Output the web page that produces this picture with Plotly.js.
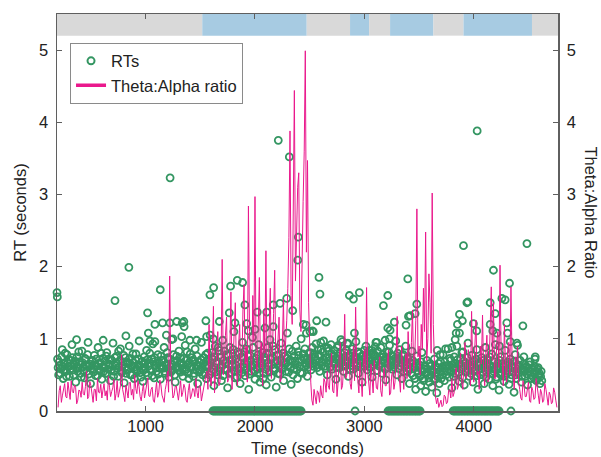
<!DOCTYPE html>
<html><head><meta charset="utf-8">
<script src="https://cdn.plot.ly/plotly-3.0.1.min.js"></script>
<style>html,body{margin:0;padding:0;background:#fff}#chart{width:601px;height:457px}</style>
</head><body><div id="chart"></div>
<script>
// ---- Theta:Alpha ratio, sampled every 10 s from t = 200 s ----
const thetaStart = 200;
const thetaStep = 10;
const thetaRatio = [
  0.05,0.28,0.35,0.12,0.22,0.31,0.38,0.20,0.18,0.40,0.30,0.16,0.42,0.27,0.25,0.36,0.33,0.10,0.15,0.29,
  0.28,0.19,0.40,0.24,0.22,0.34,0.55,0.17,0.20,0.41,0.35,0.23,0.12,0.30,0.30,0.14,0.45,0.26,0.25,0.37,
  0.18,0.29,0.38,0.21,0.28,0.15,0.48,0.33,0.20,0.27,0.32,0.44,0.15,0.24,0.42,0.19,0.26,0.35,0.78,0.30,
  0.22,0.13,0.36,0.28,0.18,0.39,0.40,0.22,0.30,0.16,0.50,0.31,0.24,0.42,0.34,0.20,0.14,0.27,0.38,0.18,
  0.28,0.35,0.46,0.21,0.20,0.30,0.33,0.15,0.12,0.26,0.40,0.19,0.25,0.43,0.36,0.22,0.18,0.12,0.30,0.38,
  0.55,0.26,1.87,0.60,0.40,0.18,0.22,0.33,0.35,0.24,0.15,0.29,0.42,0.20,0.26,0.37,0.32,0.15,0.12,0.28,
  0.38,0.17,0.22,0.31,0.30,0.20,0.45,0.26,0.18,0.35,0.34,0.14,0.25,0.32,0.40,0.48,
  0.55,0.30,1.20,0.45,0.35,0.80,1.45,0.25,0.60,0.95,1.10,0.35,0.40,0.70,2.10,0.50,0.70,1.05,1.30,0.40,
  0.45,0.85,1.65,0.30,0.80,1.25,1.50,0.55,0.35,0.90,1.20,0.45,0.60,1.40,1.75,0.65,0.90,0.40,2.84,1.10,
  0.75,0.50,1.60,0.95,2.97,0.70,0.55,1.30,1.85,0.60,0.95,0.35,1.40,0.80,2.22,0.55,0.50,1.15,1.70,0.45,
  0.85,1.35,1.95,0.70,0.65,1.05,1.30,0.40,0.45,0.90,1.55,0.65,0.90,1.25,1.70,2.40,3.88,1.60,1.20,2.70,
  4.44,1.80,2.60,3.10,3.30,1.40,1.10,2.30,2.90,3.60,4.99,2.20,3.47,1.50,0.90,0.40,
  0.15,0.08,0.30,0.20,0.10,0.28,0.25,0.12,0.35,0.22,0.18,0.45,0.40,0.26,
  0.55,0.35,0.30,0.60,0.80,0.28,0.25,0.50,0.65,0.20,0.40,0.75,0.95,0.30,0.35,0.62,1.34,0.45,0.50,0.85,
  0.75,0.38,0.30,0.55,0.90,0.42,1.44,0.60,0.45,0.25,0.70,0.48,0.20,0.65,0.85,0.35,1.71,0.55,0.40,0.22,
  0.65,0.45,0.25,0.70,0.55,0.32,
  0.30,0.52,0.75,0.28,0.20,0.45,0.60,0.35,0.35,0.68,0.85,0.22,0.25,0.50,0.55,0.30,0.40,0.72,1.31,0.48,
  0.45,0.26,0.90,0.55,0.30,0.62,
  0.80,0.45,1.10,0.65,0.50,0.95,1.40,0.55,0.70,1.25,2.80,0.75,0.90,0.50,1.20,0.85,1.70,1.10,2.48,0.70,
  1.00,1.90,1.50,0.80,3.02,1.20,0.60,0.20,
  0.10,0.18,0.05,0.12,0.15,0.06,0.08,0.22,0.20,0.10,0.12,0.28,0.30,0.18,
  0.45,0.20,0.25,0.52,0.60,0.30,0.35,0.65,0.80,0.40,0.30,0.70,0.95,0.45,0.50,0.85,0.70,0.35,1.38,0.60,
  0.40,0.90,1.26,0.50,0.55,0.30,0.90,0.65,1.33,0.55,0.35,0.80,1.05,0.40,0.60,1.15,1.72,0.70,1.50,0.45,
  0.45,0.95,1.10,0.60,2.02,0.80,0.70,0.35,1.20,0.65,0.40,0.85,0.95,0.50,1.72,0.70,0.50,0.30,0.75,0.45,
  0.89,0.40,0.30,0.18,0.15,0.42,0.35,0.20,0.20,0.30,0.40,0.14,0.12,0.33,0.28,0.16,0.18,0.45,0.36,0.22,
  0.10,0.30,0.25,0.12,0.15,0.38,0.30,0.17,0.08,0.26,0.22,0.10,0.12,0.32,0.26,0.15,0.05
];

// ---- Reaction times: main cluster (two interleaved sets of trials) ----
const rtTime = [
  195,205,214,226,238,247,259,270,281,293,
  304,316,327,338,349,361,372,383,395,406,
  418,429,440,452,463,474,486,497,508,520,
  531,543,554,565,577,588,600,611,622,634,
  645,657,668,679,691,702,713,725,736,748,
  759,770,782,793,804,816,827,839,850,861,
  873,884,896,907,918,930,941,952,964,975,
  987,998,1009,1021,1032,1044,1055,1066,1078,1089,
  1100,1112,1123,1135,1146,1157,1169,1180,1192,1203,
  1214,1226,1237,1249,1260,1271,1283,1294,1305,1317,
  1328,1340,1351,1362,1374,1385,1396,1408,1419,1431,
  1442,1453,1465,1476,1487,1499,1510,1522,1533,1545,
  1556,1567,1579,1590,1601,1613,1624,1636,1647,1658,
  1670,1681,1693,1704,1715,1727,1738,1750,1761,1772,
  1784,1795,1807,1818,1829,1841,1852,1864,1875,1886,
  1898,1909,1920,1932,1943,1955,1966,1977,1989,2000,
  2012,2023,2034,2046,2057,2068,2080,2091,2103,2114,
  2125,2137,2148,2160,2171,2182,2194,2205,2217,2228,
  2239,2251,2262,2274,2285,2296,2308,2319,2331,2342,
  2353,2365,2376,2388,2399,2410,2422,2433,2445,2456,
  2467,2479,2490,2501,2513,2524,2536,2547,2558,2570,
  2581,2592,2604,2615,2627,2638,2649,2661,2672,2684,
  2695,2706,2718,2729,2740,2752,2763,2775,2786,2797,
  2809,2820,2832,2843,2854,2866,2877,2888,2900,2911,
  2923,2934,2945,2957,2968,2979,2991,3002,3014,3025,
  3036,3048,3059,3071,3082,3093,3105,3116,3127,3139,
  3150,3162,3173,3184,3196,3207,3219,3230,3241,3253,
  3264,3276,3287,3298,3310,3321,3333,3344,3355,3367,
  3378,3390,3401,3412,3424,3435,3446,3458,3469,3480,
  3492,3503,3515,3526,3537,3549,3560,3571,3583,3594,
  3606,3617,3628,3640,3651,3662,3674,3685,3697,3708,
  3719,3731,3742,3753,3765,3776,3788,3799,3810,3822,
  3833,3845,3856,3867,3879,3890,3901,3913,3924,3936,
  3947,3958,3970,3981,3992,4004,4015,4027,4038,4049,
  4061,4072,4083,4095,4106,4117,4129,4140,4152,4163,
  4174,4186,4197,4208,4220,4231,4243,4254,4265,4277,
  4288,4299,4311,4322,4334,4345,4356,4368,4379,4390,
  4402,4413,4424,4436,4447,4458,4470,4481,4492,4504,
  4515,4526,4538,4549,4560,4572,4583,4594,4605,4616,
  200,210,220,232,243,253,264,276,287,298,
  310,321,332,344,355,366,378,389,400,412,
  423,435,446,457,469,480,491,503,514,525,
  537,548,560,571,582,594,605,617,628,640,
  651,662,674,685,696,708,719,730,742,753,
  765,776,787,799,810,821,833,844,856,867,
  878,890,901,912,924,935,947,958,969,981,
  992,1004,1015,1026,1038,1049,1061,1072,1083,1095,
  1106,1117,1129,1140,1152,1163,1174,1186,1197,1209,
  1220,1231,1243,1254,1266,1277,1288,1300,1311,1322,
  1334,1345,1357,1368,1379,1391,1402,1414,1425,1436,
  1448,1459,1470,1482,1493,1505,1516,1527,1539,1550,
  1562,1573,1584,1596,1607,1618,1630,1641,1653,1664,
  1675,1687,1698,1709,1721,1732,1744,1755,1767,1778,
  1790,1801,1812,1824,1835,1846,1858,1869,1880,1892,
  1903,1915,1926,1937,1949,1960,1972,1983,1994,2006,
  2017,2029,2040,2051,2063,2074,2085,2097,2108,2120,
  2131,2142,2154,2165,2177,2188,2199,2211,2222,2234,
  2245,2256,2268,2279,2291,2302,2313,2325,2336,2348,
  2359,2370,2382,2393,2405,2416,2427,2439,2450,2462,
  2473,2484,2496,2507,2518,2530,2541,2553,2564,2575,
  2587,2598,2609,2621,2632,2644,2655,2666,2678,2689,
  2700,2712,2723,2735,2746,2757,2769,2780,2792,2803,
  2814,2826,2837,2849,2860,2871,2883,2894,2906,2917,
  2928,2940,2951,2962,2974,2985,2997,3008,3019,3031,
  3042,3053,3065,3076,3088,3099,3110,3122,3133,3144,
  3156,3167,3178,3190,3201,3213,3224,3235,3247,3258,
  3270,3281,3292,3304,3315,3326,3338,3349,3361,3372,
  3383,3395,3406,3418,3429,3440,3452,3463,3474,3486,
  3497,3509,3520,3531,3543,3554,3565,3577,3588,3600,
  3611,3622,3634,3645,3657,3668,3679,3691,3702,3713,
  3725,3736,3748,3759,3770,3782,3793,3805,3816,3827,
  3839,3850,3862,3873,3884,3896,3907,3918,3930,3941,
  3953,3964,3975,3987,3998,4009,4021,4032,4044,4055,
  4066,4078,4089,4100,4112,4123,4134,4146,4157,4169,
  4180,4191,4203,4214,4225,4237,4248,4260,4271,4282,
  4294,4305,4316,4328,4339,4350,4362,4373,4384,4396,
  4407,4419,4430,4441,4453,4464,4475,4487,4498,4509,
  4521,4532,4543,4555,4566,4577,4589,4600,4611,4622
];
const rtValue = [
  0.72,0.50,0.63,0.58,0.85,0.45,0.66,0.55,0.78,0.61,
  0.48,0.70,0.92,0.57,0.64,0.40,0.75,0.59,0.68,0.52,
  0.83,0.61,0.46,0.72,0.55,0.95,0.63,0.38,0.69,0.58,
  0.77,0.49,0.62,0.88,0.56,0.67,0.44,0.73,0.60,0.52,
  0.81,0.58,0.65,0.42,0.70,0.94,0.55,0.63,0.76,0.48,
  0.61,0.86,0.53,0.68,0.39,0.74,0.57,0.66,0.90,0.50,
  0.62,0.79,0.45,0.71,0.58,0.64,0.97,0.53,0.68,0.41,
  0.75,0.60,0.84,0.49,0.66,0.57,0.72,0.93,0.46,0.63,
  0.55,0.78,0.67,0.44,0.70,0.59,0.88,0.52,0.65,0.74,
  0.47,0.62,0.99,0.57,0.69,0.40,0.76,0.60,0.83,0.54,
  0.66,0.48,0.73,0.91,0.58,0.64,0.45,0.79,0.61,0.70,
  0.52,0.86,0.63,0.38,0.68,0.57,0.95,0.50,0.74,0.62,
  0.45,0.80,0.62,1.05,0.55,0.72,0.35,0.90,0.66,0.50,
  0.84,0.60,0.42,0.98,0.70,0.57,0.78,0.32,0.65,0.88,
  0.53,0.71,1.10,0.46,0.63,0.82,0.58,0.38,0.75,0.95,
  0.61,0.49,0.86,0.68,0.30,0.77,0.55,1.02,0.64,0.44,
  0.73,0.58,0.92,0.40,0.67,0.81,0.52,0.70,0.36,0.88,
  0.62,0.99,0.47,0.74,0.56,0.85,0.33,0.69,0.78,0.51,
  0.94,0.60,0.42,0.76,0.66,1.08,0.54,0.71,0.37,0.83,
  0.58,0.69,0.90,0.45,0.77,0.62,1.00,0.52,0.73,0.86,
  0.64,0.48,0.80,0.70,0.57,0.88,0.66,0.75,0.93,0.60,
  0.78,0.55,0.85,0.68,0.97,0.62,0.74,0.50,0.83,0.70,
  0.92,0.58,0.76,0.65,0.44,0.88,0.72,0.60,0.99,0.67,
  0.55,0.81,0.70,0.93,0.48,0.75,0.63,0.86,0.58,0.72,
  0.96,0.66,0.52,0.80,0.69,0.40,0.77,0.62,0.90,0.57,
  0.73,0.84,0.61,0.47,0.79,0.68,0.95,0.56,0.71,0.64,
  0.88,0.52,0.75,0.67,0.43,0.82,0.60,0.91,0.70,0.58,
  0.76,0.64,0.97,0.50,0.73,0.85,0.62,0.45,0.78,0.68,
  0.90,0.55,0.72,0.38,0.66,0.83,0.49,0.60,0.30,0.76,
  0.52,0.64,0.35,0.81,0.45,0.58,0.27,0.70,0.50,0.40,
  0.62,0.33,0.55,0.72,0.44,0.25,0.60,0.38,0.68,0.50,
  0.78,0.42,0.63,0.55,0.86,0.47,0.70,0.32,0.60,0.75,
  0.52,0.90,0.64,0.41,0.73,0.58,0.82,0.36,0.67,0.55,
  0.94,0.48,0.62,0.77,0.40,0.69,0.57,0.85,0.30,0.66,
  0.50,0.74,0.61,0.38,0.88,0.54,0.70,0.44,0.63,0.79,
  0.35,0.58,0.92,0.47,0.66,0.29,0.75,0.53,0.62,0.41,
  0.84,0.56,0.68,0.37,0.72,0.50,0.60,0.26,0.78,0.45,
  0.64,0.53,0.70,0.40,0.58,0.75,0.48,0.62,0.36,0.55,
  0.68,0.45,0.60,0.52,0.72,0.42,0.58,0.49,0.38,0.55,
  0.60,0.68,0.52,0.75,0.62,0.57,0.80,0.48,0.66,0.71,
  0.58,0.63,0.74,0.50,0.69,0.61,0.55,0.82,0.64,0.47,
  0.67,0.56,0.73,0.62,0.78,0.51,0.65,0.59,0.70,0.54,
  0.63,0.72,0.49,0.66,0.58,0.80,0.61,0.55,0.69,0.76,
  0.52,0.64,0.71,0.57,0.62,0.48,0.74,0.66,0.59,0.83,
  0.70,0.55,0.63,0.77,0.60,0.52,0.68,0.58,0.73,0.64,
  0.50,0.67,0.61,0.79,0.56,0.72,0.63,0.47,0.69,0.58,
  0.65,0.53,0.71,0.62,0.80,0.57,0.49,0.68,0.74,0.60,
  0.66,0.51,0.59,0.76,0.63,0.70,0.55,0.64,0.81,0.58,
  0.72,0.54,0.65,0.78,0.50,0.61,0.69,0.57,0.66,0.73,
  0.59,0.64,0.55,0.70,0.82,0.52,0.67,0.61,0.74,0.48,
  0.69,0.58,0.76,0.63,0.54,0.71,0.60,0.66,0.52,0.78,
  0.63,0.72,0.50,0.67,0.81,0.58,0.75,0.54,0.69,0.88,
  0.56,0.74,0.62,0.49,0.83,0.66,0.58,0.77,0.52,0.70,
  0.64,0.85,0.55,0.72,0.47,0.68,0.79,0.60,0.53,0.74,
  0.82,0.57,0.65,0.76,0.51,0.70,0.62,0.88,0.55,0.67,
  0.60,0.78,0.53,0.69,0.63,0.45,0.75,0.58,0.80,0.66,
  0.54,0.72,0.64,0.90,0.59,0.68,0.77,0.52,0.63,0.71,
  0.58,0.80,0.67,0.55,0.73,0.62,0.86,0.60,0.69,0.50,
  0.76,0.64,0.57,0.82,0.68,0.53,0.71,0.79,0.61,0.66,
  0.72,0.60,0.67,0.81,0.74,0.62,0.79,0.70,0.64,0.85,
  0.68,0.76,0.63,0.82,0.71,0.59,0.87,0.66,0.74,0.61,
  0.79,0.67,0.84,0.72,0.60,0.76,0.66,0.81,0.70,0.63,
  0.74,0.62,0.85,0.68,0.77,0.58,0.71,0.80,0.66,0.75,
  0.63,0.82,0.70,0.61,0.76,0.67,0.84,0.72,0.65,0.78,
  0.69,0.60,0.80,0.73,0.64,0.77,0.68,0.83,0.62,0.75,
  0.66,0.78,0.71,0.58,0.74,0.67,0.82,0.63,0.77,0.70,
  0.61,0.73,0.68,0.80,0.59,0.72,0.66,0.76,0.55,0.69,
  0.64,0.74,0.58,0.67,0.52,0.70,0.61,0.45,0.65,0.55,
  0.60,0.48,0.68,0.56,0.42,0.63,0.52,0.58,0.46,0.66,
  0.50,0.57,0.44,0.62,0.53,0.48,0.66,0.55,0.45,0.61,
  0.56,0.68,0.50,0.62,0.58,0.73,0.54,0.64,0.48,0.66,
  0.60,0.71,0.53,0.65,0.58,0.46,0.69,0.62,0.55,0.74,
  0.57,0.64,0.52,0.68,0.61,0.55,0.72,0.49,0.63,0.58,
  0.66,0.54,0.70,0.60,0.47,0.64,0.57,0.75,0.52,0.61,
  0.55,0.68,0.44,0.62,0.58,0.70,0.50,0.65,0.57,0.48,
  0.63,0.52,0.59,0.66,0.45,0.61,0.55,0.69,0.50,0.58,
  0.53,0.62,0.57,0.48,0.65,0.55,0.60,0.51,0.58,0.64,
  0.50,0.58,0.47,0.62,0.55,0.44,0.60,0.52,0.48,0.42
];

// ---- Reaction times: slow responses ----
const outTime = [
  190,193,369,612,720,820,847,1018,1025,1040,
  1085,1085,1134,1155,1190,1222,1224,1250,1284,1330,
  1335,1350,1352,1405,1466,1551,1558,1588,1619,1622,
  1674,1765,1777,1817,1838,1887,1908,1924,1939,2000,
  2021,2091,2107,2167,2167,2213,2229,2290,2314,2345,
  2391,2396,2442,2467,2470,2503,2525,2533,2564,2585,
  2594,2601,2649,2671,2762,2799,2848,2863,2900,2909,
  2954,3068,3098,3113,3174,3189,3214,3214,3229,3235,
  3274,3381,3397,3403,3418,3464,3479,3666,3693,3742,
  3800,3830,3839,3851,3869,3869,3891,3896,3906,3937,
  3946,3997,4027,4031,4150,4150,4174,4180,4196,4211,
  4235,4257,4287,4302,4309,4327,4333,4394,4400,4449,
  4486,4562
];
const outValue = [
  1.64,1.58,0.99,0.98,1.53,1.04,1.99,1.36,1.08,0.97,
  1.20,0.96,1.68,1.22,1.05,1.22,3.23,1.00,1.24,1.03,
  1.22,1.24,1.17,0.98,0.98,1.25,1.03,1.61,1.00,1.71,
  1.24,1.36,1.73,1.22,1.81,1.78,1.47,1.21,1.11,1.13,
  1.37,1.15,1.37,1.47,1.17,3.75,1.49,1.56,3.52,1.39,
  2.09,2.41,1.20,1.19,1.08,1.10,1.11,1.10,1.25,1.85,
  1.62,0.95,1.23,0.87,0.91,0.96,0.94,1.60,1.55,1.08,
  1.64,0.84,0.89,0.95,1.46,0.98,1.60,1.15,1.00,1.12,
  1.23,1.19,1.83,1.31,1.32,1.35,1.48,0.84,0.78,0.86,
  0.88,0.99,1.08,1.20,1.34,1.08,0.81,1.25,2.29,1.50,
  1.51,1.21,1.11,3.88,1.50,1.20,1.11,1.95,1.35,1.08,
  0.90,1.56,1.54,1.22,1.08,1.77,0.96,0.94,0.91,1.18,
  2.32,0.75
];

// ---- Missed trials (drawn at RT = 0) ----
const missRT = 0;
const missTime = [
  1615,1624,1634,1643,1653,1662,1672,1681,1691,1700,
  1710,1719,1729,1738,1748,1757,1767,1776,1786,1795,
  1805,1814,1824,1833,1843,1852,1862,1871,1881,1890,
  1900,1909,1919,1928,1938,1947,1957,1966,1976,1985,
  1995,2004,2014,2023,2033,2042,2052,2061,2071,2080,
  2090,2099,2109,2118,2128,2137,2147,2156,2166,2175,
  2185,2194,2204,2213,2223,2232,2242,2251,2261,2270,
  2280,2289,2299,2308,2318,2327,2337,2346,2356,2365,
  2375,2384,2394,2403,2413,2422,
  2915,
  3216,3226,3235,3246,3255,3266,3274,3285,3294,3305,
  3313,3324,3334,3343,3354,3363,3373,3384,3392,3403,
  3413,3422,3433,3442,3452,3463,3471,3482,3491,3502,3510,
  3811,3821,3830,3841,3850,3861,3869,3880,3890,3899,
  3910,3919,3929,3940,3948,3959,3969,3978,3989,3998,
  4008,4019,4027,4038,4047,4057,4068,4077,4087,4098,
  4106,4117,4126,4136,4147,4156,4166,4175,4185,4196,
  4205,4215,4224,4232,
  4340
];

// ---- Task-state band along the top ----
const bandStart = [190,1518,2473,2869,3043,3235,3631,3906,4532];
const bandEnd   = [1518,2473,2869,3043,3235,3631,3906,4532,4770];
const bandState = ['rest','task','rest','task','rest','task','rest','task','rest'];

const green = 'rgb(52,150,98)';
const magenta = 'rgb(234,24,140)';
const fontFam = '"Liberation Sans", Arial, Helvetica, sans-serif';
const axisCol = '#5f5f5f';
const txtCol = '#222222';

const rtX = rtTime.concat(outTime, missTime);
const rtY = rtValue.concat(outValue, missTime.map(() => missRT));

const traces = [
  {x: rtX, y: rtY, type: 'scatter', mode: 'markers', name: 'RTs', showlegend: false,
   cliponaxis: false,
   marker: {symbol: 'circle-open', size: 7, color: green, line: {width: 1.8, color: green}}},
  {y: thetaRatio, x0: thetaStart, dx: thetaStep, type: 'scatter', mode: 'lines',
   name: 'Theta:Alpha ratio', showlegend: false, yaxis: 'y2',
   line: {color: magenta, width: 1}},
  {x: [null], y: [null], type: 'scatter', mode: 'markers', name: 'RTs',
   marker: {symbol: 'circle-open', size: 7, color: green, line: {width: 2, color: green}}},
  {x: [null], y: [null], type: 'scatter', mode: 'lines', name: 'Theta:Alpha ratio',
   line: {color: magenta, width: 3.5}}
];

const bandColors = {rest: '#d9d9d9', task: '#a7cbe2'};
const shapes = bandStart.map((s, i) => ({
  type: 'rect', xref: 'x', yref: 'y', x0: s, x1: bandEnd[i], y0: 5.2, y1: 5.5,
  fillcolor: bandColors[bandState[i]], line: {width: 0}, layer: 'below'
}));

const tickFont = {family: fontFam, size: 16.5, color: txtCol};
const layout = {
  width: 601, height: 457,
  margin: {l: 57, r: 43, t: 14, b: 46, pad: 0},
  paper_bgcolor: '#ffffff', plot_bgcolor: '#ffffff',
  font: {family: fontFam, size: 16.5, color: txtCol},
  showlegend: true,
  legend: {x: 0.026, y: 0.928, xanchor: 'left', yanchor: 'top',
           bgcolor: '#ffffff', bordercolor: '#8a8a8a', borderwidth: 1,
           font: {family: fontFam, size: 16.5, color: txtCol}, itemwidth: 30, tracegroupgap: 0},
  xaxis: {range: [190, 4770], tickvals: [1000, 2000, 3000, 4000], ticktext: ['1000','2000','3000','4000'],
          ticks: 'inside', ticklen: 5, tickcolor: axisCol, tickwidth: 1,
          showline: true, linecolor: axisCol, linewidth: 1.5, mirror: 'ticks',
          showgrid: false, zeroline: false, tickfont: tickFont,
          title: {text: 'Time (seconds)', font: {family: fontFam, size: 16.5, color: txtCol}, standoff: 9}},
  yaxis: {range: [0, 5.5], tickvals: [0,1,2,3,4,5], ticktext: ['0','1','2','3','4','5'],
          ticks: 'inside', ticklen: 5, tickcolor: axisCol, tickwidth: 1,
          showline: true, linecolor: axisCol, linewidth: 1.5,
          showgrid: false, zeroline: false, tickfont: tickFont, ticklabelstandoff: 4,
          title: {text: 'RT (seconds)', font: {family: fontFam, size: 16.5, color: txtCol}, standoff: 8}},
  yaxis2: {range: [0, 5.5], overlaying: 'y', side: 'right',
           tickvals: [1,2,3,4,5], ticktext: ['1','2','3','4','5'],
           ticks: 'inside', ticklen: 5, tickcolor: axisCol, tickwidth: 1,
           showline: true, linecolor: axisCol, linewidth: 1.5,
           showgrid: false, zeroline: false, tickfont: tickFont, ticklabelstandoff: 4},
  shapes: shapes,
  annotations: [
    {text: 'Theta:Alpha Ratio', xref: 'paper', yref: 'paper', x: 1.066, y: 0.5,
     xanchor: 'center', yanchor: 'middle', textangle: 90, showarrow: false,
     font: {family: fontFam, size: 16.5, color: txtCol}}
  ]
};

Plotly.newPlot('chart', traces, layout, {displayModeBar: false, staticPlot: true});
</script></body></html>
